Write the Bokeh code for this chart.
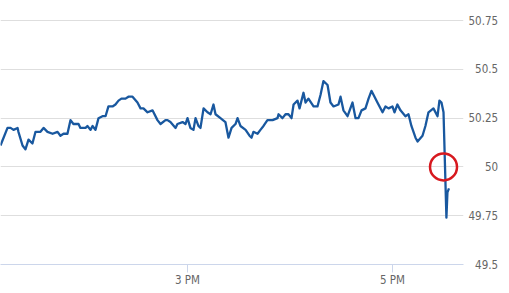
from bokeh.plotting import figure
from bokeh.models import (ColumnDataSource, Range1d, FixedTicker, Grid,
                          LinearAxis)
from bokeh.embed import file_html
from bokeh.resources import INLINE

# minutes after 1:00 PM
times = [10.5, 14.6, 16.4, 18.1, 20.5, 21.0, 23.4, 25.1, 26.9, 29.2, 31.0, 33.9,
         35.7, 38.0, 41.0, 43.9, 45.6, 47.4, 49.7, 51.5, 53.2, 56.2, 57.3, 60.3,
         61.4, 63.2, 64.4, 66.1, 67.9, 70.2, 72.0, 73.7, 76.1, 77.8, 79.6, 81.3,
         83.7, 85.4, 87.8, 90.7, 92.5, 94.2, 96.6, 99.5, 102.4, 104.2, 107.1,
         108.3, 110.0, 113.0, 114.1, 117.1, 118.8, 120.0, 121.7, 123.5, 124.7,
         126.4, 127.6, 129.4, 131.7, 133.5, 135.2, 136.4, 139.3, 142.2, 144.0,
         145.8, 148.1, 149.3, 151.0, 154.0, 156.3, 157.5, 158.6, 161.0, 162.7,
         164.5, 166.8, 169.8, 172.7, 173.3, 175.6, 177.4, 179.1, 180.9, 182.1,
         184.4, 185.6, 187.9, 189.1, 190.8, 193.8, 196.1, 197.9, 199.6, 200.8,
         202.0, 203.7, 205.5, 208.4, 209.6, 211.3, 213.7, 216.6, 218.4, 220.1,
         221.9, 224.2, 226.0, 227.7, 228.9, 231.2, 234.2, 235.9, 237.7, 240.0,
         241.2, 242.9, 244.7, 247.6, 249.4, 251.1, 253.5, 254.7, 257.6, 259.3,
         261.1, 264.0, 266.4, 267.5, 268.7, 269.9, 271.6, 272.2, 273.1]

prices = [50.11, 50.20, 50.20, 50.19, 50.20, 50.18, 50.11, 50.09, 50.14, 50.12,
          50.18, 50.18, 50.20, 50.18, 50.17, 50.18, 50.16, 50.17, 50.17, 50.24,
          50.22, 50.22, 50.20, 50.20, 50.21, 50.19, 50.21, 50.19, 50.25, 50.26,
          50.26, 50.31, 50.31, 50.32, 50.34, 50.35, 50.35, 50.36, 50.36, 50.33,
          50.30, 50.30, 50.28, 50.29, 50.24, 50.22, 50.24, 50.24, 50.23, 50.20,
          50.22, 50.23, 50.22, 50.25, 50.20, 50.19, 50.25, 50.21, 50.20, 50.30,
          50.28, 50.27, 50.32, 50.27, 50.25, 50.23, 50.15, 50.20, 50.22, 50.25,
          50.21, 50.19, 50.16, 50.15, 50.18, 50.17, 50.19, 50.21, 50.24, 50.24,
          50.25, 50.27, 50.25, 50.27, 50.27, 50.25, 50.32, 50.34, 50.30, 50.38,
          50.33, 50.35, 50.31, 50.31, 50.37, 50.44, 50.43, 50.42, 50.33, 50.31,
          50.32, 50.36, 50.29, 50.26, 50.33, 50.25, 50.25, 50.29, 50.30, 50.35,
          50.39, 50.37, 50.33, 50.28, 50.31, 50.30, 50.31, 50.28, 50.32, 50.29,
          50.26, 50.27, 50.21, 50.15, 50.13, 50.16, 50.21, 50.28, 50.30, 50.26,
          50.34, 50.33, 50.28, 49.74, 49.87, 49.89]

highlight_time = [269.9]
highlight_price = [50.00]

y_ticks = [49.5, 49.75, 50.0, 50.25, 50.5, 50.75]
y_tick_labels = ["49.5", "49.75", "50", "50.25", "50.5", "50.75"]
x_ticks = [120, 240]
x_tick_labels = ["3 PM", "5 PM"]

n = min(len(times), len(prices))
FONT = "DejaVu Sans Condensed"


def pad_right_aligned(label, widest="50.75"):
    # pad with figure / punctuation spaces so labels line up on the right
    digits_missing = sum(c.isdigit() for c in widest) - sum(c.isdigit() for c in label)
    dots_missing = widest.count(".") - label.count(".")
    return "\u2007" * max(digits_missing, 0) + "\u2008" * max(dots_missing, 0) + label


p = figure(width=509, height=293, output_backend="svg", toolbar_location=None,
           x_axis_location=None, y_axis_location=None,
           x_range=Range1d(10.5, 281.6), y_range=Range1d(49.5, 50.853),
           min_border_left=0, min_border_top=0, min_border_right=46,
           min_border_bottom=29)
p.outline_line_color = None
p.background_fill_color = "white"
p.border_fill_color = "white"
for g in list(p.center):
    if isinstance(g, Grid):
        p.center.remove(g)

p.add_layout(Grid(dimension=1, ticker=FixedTicker(ticks=y_ticks[1:]),
                  grid_line_color="#dedede", grid_line_width=1))

xaxis = LinearAxis(ticker=FixedTicker(ticks=x_ticks),
                   major_label_overrides=dict(zip(x_ticks, x_tick_labels)))
xaxis.axis_line_color = "#ccd6eb"
xaxis.major_tick_line_color = "#ccd6eb"
xaxis.major_tick_in = 0
xaxis.major_tick_out = 8
xaxis.minor_tick_line_color = None
xaxis.major_label_standoff = 0
xaxis.major_label_text_font = FONT
xaxis.major_label_text_font_size = "11.5px"
xaxis.major_label_text_color = "#666666"
p.add_layout(xaxis, "below")

yaxis = LinearAxis(ticker=FixedTicker(ticks=y_ticks),
                   major_label_overrides={t: pad_right_aligned(s)
                                          for t, s in zip(y_ticks, y_tick_labels)})
yaxis.axis_line_color = None
yaxis.major_tick_line_color = None
yaxis.minor_tick_line_color = None
yaxis.major_tick_in = 0
yaxis.major_tick_out = 0
yaxis.major_label_standoff = 5
yaxis.major_label_text_font = FONT
yaxis.major_label_text_font_size = "11.5px"
yaxis.major_label_text_color = "#666666"
p.add_layout(yaxis, "right")

src = ColumnDataSource(dict(t=times[:n], v=prices[:n]))
p.line("t", "v", source=src, line_color="#19589f", line_width=2.3,
       line_join="round")

p.scatter(highlight_time, highlight_price, size=27, fill_color=None,
          line_color="#d7191f", line_width=2.5)

open("out.html", "w").write(file_html(p, INLINE))
